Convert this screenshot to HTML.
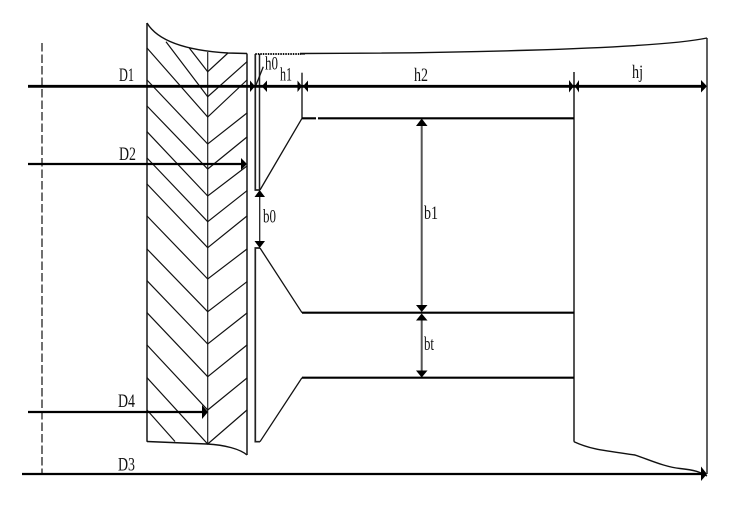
<!DOCTYPE html>
<html>
<head>
<meta charset="utf-8">
<style>
html,body{margin:0;padding:0;background:#fff;width:736px;height:505px;overflow:hidden}
svg{display:block}
text{font-family:"Liberation Serif",serif;font-size:19px;fill:#111}
</style>
</head>
<body>
<svg width="736" height="505" viewBox="0 0 736 505" xmlns="http://www.w3.org/2000/svg">
<!-- rotor walls -->
<g fill="none" stroke="#333" stroke-width="1.7">
<path d="M147 23V441.7"/>
<path d="M247 53.5V455"/>
<path d="M707 38V474" stroke="#444"/>
<path d="M574 72V441.7" stroke="#555" stroke-width="2"/>
<path d="M302 72.7V118.3" stroke="#444"/>
</g>
<path d="M207.7 52V444" fill="none" stroke="#222" stroke-width="1.200"/>
<!-- curves -->
<g fill="none" stroke="#111" stroke-width="1.400">
<path d="M147 23C156 38 178 50 228 53L247 53.500"/>
<path d="M147 441.500L207 444C225 445 240 449 247 455"/>
<path d="M300 53.500C420 53.500 650 50 707 38"/>
<path d="M574 441.700C590 449 600 450 635 455C650 460 665 467 680 468.500C695 470 700 472 707 476"/>
</g>
<!-- hatching -->
<g fill="none" stroke="#111" stroke-width="1.200">
<path d="M189.300 48L207.700 71.700L228 53"/>
<path d="M166 41.700L207.700 96.700L247 61.700"/>
<path d="M147 48L207.700 117L247 80"/>
<path d="M147 80L207.700 144L247 113"/>
<path d="M147 106L207.700 169L247 137"/>
<path d="M147 131.700L207.700 196L247 166"/>
<path d="M147 158L207.700 221.700L247 190.700"/>
<path d="M147 184L207.700 247.700L247 216"/>
<path d="M147 216L207.700 279L247 249"/>
<path d="M147 249L207.700 311.700L247 281.700"/>
<path d="M147 280.700L207.700 344L247 313"/>
<path d="M147 312.700L207.700 376.700L247 345"/>
<path d="M147 345L207.700 410L247 378"/>
<path d="M147 377.700L207.700 444L247 410"/>
<path d="M147 410L175 441.500"/>
</g>
<!-- stator outline -->
<g fill="none" stroke="#222" stroke-width="1.700">
<path d="M255.300 54V190H260"/>
<path d="M259.500 54V190" stroke-width="1.500"/>
<path d="M260 248H255.300V441.700H260"/>
</g>
<g fill="none" stroke="#111" stroke-width="1.300">
<path d="M260 190L302 118.300"/>
<path d="M260 248L302 312.700"/>
<path d="M260 441.700L302 377.700"/>
<path d="M263.300 66.700L256 85"/>
<path d="M300 54H305"/>
</g>
<path d="M255.300 54H301" fill="none" stroke="#111" stroke-width="2" stroke-dasharray="1.500 1"/>
<!-- slot lines -->
<g fill="none" stroke="#000" stroke-width="2.200">
<path d="M302 118.300H316M318 118.300H574"/>
<path d="M302 312.700H574"/>
<path d="M302 377.700H574"/>
</g>
<!-- centre line -->
<path d="M42 43V474" fill="none" stroke="#222" stroke-width="1.300" stroke-dasharray="8.500 3"/>
<!-- diameters -->
<g fill="none" stroke="#000">
<path d="M28 86.300H703" stroke-width="2.800"/>
<path d="M28 164H243" stroke-width="2.200"/>
<path d="M28 412H204" stroke-width="2.200"/>
<path d="M22 474H703" stroke-width="2.200"/>
</g>
<!-- dimensions -->
<g fill="none" stroke="#555" stroke-width="2">
<path d="M421.700 122V309"/>
<path d="M421.700 317V374"/>
</g>
<path d="M259.700 195V243" fill="none" stroke="#222" stroke-width="1.300"/>
<!-- arrowheads -->
<g fill="#000">
<path d="M255 86.300L250 80.500V92Z"/>
<path d="M261.700 86.300L267 80.500V92Z"/>
<path d="M302 86.300L297.500 80.500V92Z"/>
<path d="M303 86.300L308 80.500V92Z"/>
<path d="M573.700 86.300L569 80V92.500Z"/>
<path d="M575 86.300L579 80V92.500Z"/>
<path d="M707 86.300L701 80V92.500Z"/>
<path d="M247 164L241 158V170Z"/>
<path d="M208 412L202 405V419Z"/>
<path d="M707 474L701 466.500V481Z"/>
<path d="M259.700 190L254.500 197H265Z"/>
<path d="M259.700 248L254.500 241H265Z"/>
<path d="M421.700 118.500L416 126H427.500Z"/>
<path d="M421.700 312L416 305H427.500Z"/>
<path d="M421.700 313.500L416 320.500H427.500Z"/>
<path d="M421.700 377.500L416 370.500H427.500Z"/>
</g>
<!-- labels -->
<text x="119" y="81" textLength="15" lengthAdjust="spacingAndGlyphs">D1</text>
<text x="119" y="160" textLength="17" lengthAdjust="spacingAndGlyphs">D2</text>
<text x="118" y="407" textLength="17" lengthAdjust="spacingAndGlyphs">D4</text>
<text x="118" y="470.500" textLength="17" lengthAdjust="spacingAndGlyphs">D3</text>
<text x="265" y="69.300" textLength="13" lengthAdjust="spacingAndGlyphs">h0</text>
<text x="280" y="80.700" textLength="12" lengthAdjust="spacingAndGlyphs">h1</text>
<text x="414" y="81" textLength="14" lengthAdjust="spacingAndGlyphs">h2</text>
<text x="632" y="78" textLength="11" lengthAdjust="spacingAndGlyphs">hj</text>
<text x="263" y="222.700" textLength="13" lengthAdjust="spacingAndGlyphs">b0</text>
<text x="424" y="219" textLength="14" lengthAdjust="spacingAndGlyphs">b1</text>
<text x="424" y="350" textLength="10" lengthAdjust="spacingAndGlyphs">bt</text>
</svg>
</body>
</html>
